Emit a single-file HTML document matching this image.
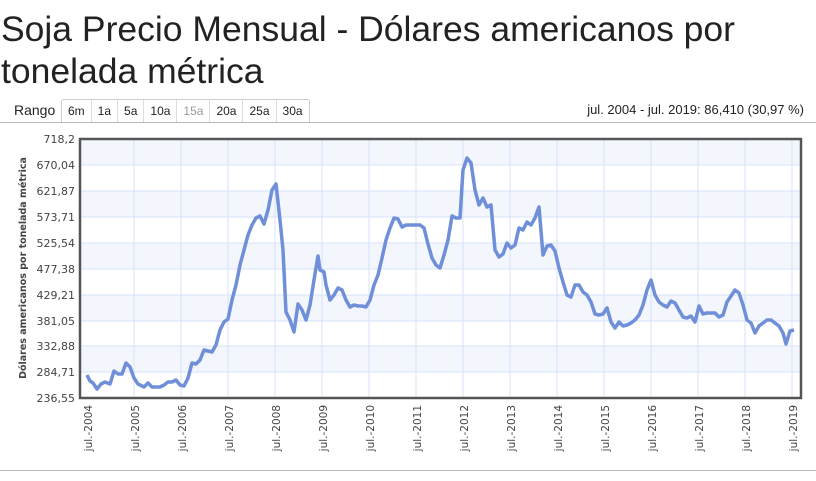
<!DOCTYPE html>
<html><head><meta charset="utf-8"><style>
body{margin:0;width:816px;height:481px;background:#fff;font-family:"Liberation Sans",sans-serif;overflow:hidden;position:relative}
h1{position:absolute;left:1px;top:8px;margin:0;font-weight:normal;font-size:35.5px;line-height:42px;color:#222}
.bar{position:absolute;left:0;top:98px;width:816px;height:24px;border-bottom:1px solid #bbb}
.rl{position:absolute;left:14px;top:4px;font-size:14px;color:#222}
.btns{position:absolute;left:61px;top:1px;display:flex;border:1px solid #ccc;border-bottom:none;border-radius:3px 3px 0 0;height:22px}
.btns span{font-size:12px;padding:4px 6px 0;border-right:1px solid #ddd;color:#222}
.btns span:last-child{border-right:none}
.rt{position:absolute;right:12px;top:4px;font-size:13px;color:#222}
.foot{position:absolute;left:0;top:470px;width:816px;border-top:1px solid #bbb}
</style></head><body>
<h1>Soja Precio Mensual - Dólares americanos por<br>tonelada métrica</h1>
<div class="bar"><div class="rl">Rango</div>
<div class="btns"><span>6m</span><span>1a</span><span>5a</span><span>10a</span><span style="color:#999">15a</span><span>20a</span><span>25a</span><span>30a</span></div>
<div class="rt">jul. 2004 - jul. 2019: 86,410 (30,97 %)</div></div>
<svg width="816" height="481" style="position:absolute;left:0;top:0" font-family="DejaVu Sans, Verdana, sans-serif">
<g fill="#f4f6fd"><rect x="80" y="139" width="720" height="26"/><rect x="80" y="191" width="720" height="26"/><rect x="80" y="243" width="720" height="26"/><rect x="80" y="295" width="720" height="26"/><rect x="80" y="346" width="720" height="26"/></g>
<g stroke="#d6e2fa" stroke-width="1">
<line x1="80" x2="800" y1="165" y2="165"/><line x1="80" x2="800" y1="191" y2="191"/><line x1="80" x2="800" y1="217" y2="217"/><line x1="80" x2="800" y1="243" y2="243"/><line x1="80" x2="800" y1="269" y2="269"/><line x1="80" x2="800" y1="295" y2="295"/><line x1="80" x2="800" y1="321" y2="321"/><line x1="80" x2="800" y1="346" y2="346"/><line x1="80" x2="800" y1="372" y2="372"/>
<line x1="134" x2="134" y1="139" y2="398"/><line x1="181" x2="181" y1="139" y2="398"/><line x1="228" x2="228" y1="139" y2="398"/><line x1="275" x2="275" y1="139" y2="398"/><line x1="322" x2="322" y1="139" y2="398"/><line x1="369" x2="369" y1="139" y2="398"/><line x1="416" x2="416" y1="139" y2="398"/><line x1="463" x2="463" y1="139" y2="398"/><line x1="510" x2="510" y1="139" y2="398"/><line x1="557" x2="557" y1="139" y2="398"/><line x1="604" x2="604" y1="139" y2="398"/><line x1="651" x2="651" y1="139" y2="398"/><line x1="698" x2="698" y1="139" y2="398"/><line x1="745" x2="745" y1="139" y2="398"/><line x1="792" x2="792" y1="139" y2="398"/>
</g>
<path d="M80,398V139H801V398Z" fill="none" stroke="#555" stroke-width="2.5"/>
<polyline fill="none" stroke="#6f8fd9" stroke-width="3.5" stroke-linejoin="round" points="87,375 90,381 93,383 97,389 101,384 105,382 110,384 114,371 118,374 122,374 126,363 130,367 134,378 138,384 144,387 148,383 152,387 160,387 164,385 168,382 172,382 176,380 180,385 184,386 188,378 192,363 196,364 200,360 204,350 208,351 212,352 216,345 220,330 224,322 228,319 232,300 236,285 240,265 244,250 248,235 252,225 256,218 260,216 264,224 268,210 272,190 276,184 280,220 283,250 286,312 290,320 294,332 298,304 302,310 306,320 310,305 314,280 318,256 320,270 324,272 326,285 330,300 334,295 338,288 342,290 346,300 350,307 354,305 358,306 362,306 366,307 370,300 374,285 378,275 382,258 386,240 390,228 394,218 398,219 402,227 406,225 412,225 420,225 424,228 428,244 432,258 436,265 440,268 444,255 448,240 452,216 456,218 460,218 463,170 467,158 471,163 475,190 479,205 483,198 487,207 491,205 495,250 499,257 503,254 507,243 511,248 515,245 519,228 523,230 527,222 531,225 535,218 539,207 543,255 547,246 551,245 555,251 559,268 563,282 567,295 571,297 575,285 579,285 583,292 587,295 591,302 595,314 599,315 603,314 607,308 611,322 615,328 619,322 623,326 627,325 631,323 635,320 639,315 643,305 647,290 651,280 655,295 659,302 663,305 667,307 671,301 675,303 679,310 683,317 687,318 691,316 695,322 699,306 703,314 707,313 711,313 715,313 719,317 723,315 727,302 731,296 735,290 739,293 743,305 747,320 751,323 755,333 759,326 763,323 767,320 771,320 775,323 779,326 783,333 786,344 790,331 794,330"/>
<g font-size="11" fill="#444" text-anchor="end">
<text x="75" y="143">718,2</text><text x="75" y="169">670,04</text><text x="75" y="195">621,87</text><text x="75" y="221">573,71</text><text x="75" y="247">525,54</text><text x="75" y="273">477,38</text><text x="75" y="299">429,21</text><text x="75" y="325">381,05</text><text x="75" y="350">332,88</text><text x="75" y="376">284,71</text><text x="75" y="402">236,55</text>
</g>
<text transform="translate(26,268) rotate(-90)" font-family="DejaVu Sans,sans-serif" font-size="9.5" font-weight="bold" fill="#444" text-anchor="middle">Dólares americanos por tonelada métrica</text>
<g font-size="10.5" fill="#444" text-anchor="end">
<text transform="translate(92,405) rotate(-90)">jul.-2004</text><text transform="translate(139,405) rotate(-90)">jul.-2005</text><text transform="translate(186,405) rotate(-90)">jul.-2006</text><text transform="translate(233,405) rotate(-90)">jul.-2007</text><text transform="translate(280,405) rotate(-90)">jul.-2008</text><text transform="translate(327,405) rotate(-90)">jul.-2009</text><text transform="translate(374,405) rotate(-90)">jul.-2010</text><text transform="translate(421,405) rotate(-90)">jul.-2011</text><text transform="translate(468,405) rotate(-90)">jul.-2012</text><text transform="translate(515,405) rotate(-90)">jul.-2013</text><text transform="translate(562,405) rotate(-90)">jul.-2014</text><text transform="translate(609,405) rotate(-90)">jul.-2015</text><text transform="translate(656,405) rotate(-90)">jul.-2016</text><text transform="translate(703,405) rotate(-90)">jul.-2017</text><text transform="translate(750,405) rotate(-90)">jul.-2018</text><text transform="translate(797,405) rotate(-90)">jul.-2019</text>
</g>
</svg>
<div class="foot"></div>
</body></html>
